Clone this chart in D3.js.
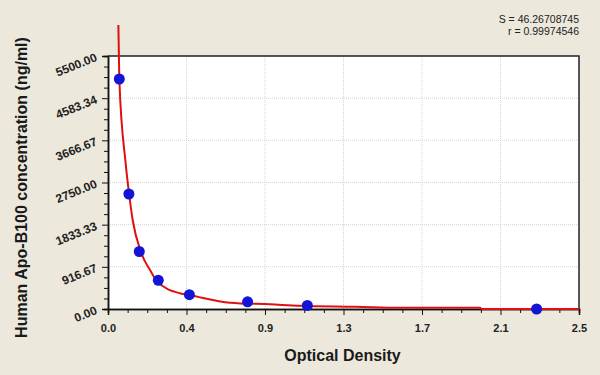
<!DOCTYPE html>
<html>
<head>
<meta charset="utf-8">
<script src="https://cdn.jsdelivr.net/npm/d3@7"></script>
<style>
  html, body { margin: 0; padding: 0; background: #ECE8DB; }
  #chart { width: 600px; height: 375px; }
  text { font-family: Arial, "Liberation Sans", sans-serif; }
</style>
</head>
<body>
<div id="chart"></div>
<script>
//Datos
const odValues   = [0.060, 0.111, 0.166, 0.267, 0.432, 0.741, 1.058, 2.275];
const concValues = [5000, 2500, 1250, 625, 312.5, 156, 78, 0];

//Curva ajustada (puntos leidos)
const curveOd   = [0.055, 0.060, 0.093, 0.112, 0.131, 0.174, 0.223, 0.259, 0.382, 0.435, 0.648, 0.860, 1.019, 1.316, 1.550, 1.975, 1.985, 2.5];
const curveConc = [6174, 5000, 3196, 2500, 1935, 1246, 848, 609, 341, 300, 137, 102, 72, 50, 28, 28, 0, 0];

//Ticks
const xTickValues = [0, 0.4167, 0.8333, 1.25, 1.6667, 2.0833, 2.5];
const xTickLabels = ['0.0', '0.4', '0.9', '1.3', '1.7', '2.1', '2.5'];
const yTickValues = [0, 916.67, 1833.33, 2750, 3666.67, 4583.34, 5500];
const yTickLabels = ['0.00', '916.67', '1833.33', '2750.00', '3666.67', '4583.34', '5500.00'];

const statLines = ['S = 46.26708745', 'r = 0.99974546'];

let margin = {top: 56, right: 21, bottom: 66, left: 108},
    width = 600 - margin.left - margin.right,
    height = 375 - margin.top - margin.bottom;

let svg = d3.select('#chart')
    .append('svg')
        .attr('width', 600)
        .attr('height', 375)
    .append('g')
        .attr('transform', 'translate(' + margin.left + ',' + margin.top + ')');

let x = d3.scaleLinear()
    .domain([0, 2.5])
    .range([0, width]);

let y = d3.scaleLinear()
    .domain([0, 5500])
    .range([height, 0]);

//Fondo del area
svg.append('rect')
    .attr('width', width)
    .attr('height', height)
    .attr('fill', '#ffffff');

//Rejilla
svg.append('g')
    .selectAll('line')
    .data(xTickValues.slice(1, -1))
    .enter()
    .append('line')
    .attr('x1', d => x(d)).attr('x2', d => x(d))
    .attr('y1', 0).attr('y2', height)
    .attr('stroke', '#d4d4d4')
    .attr('stroke-dasharray', '1,1');

svg.append('g')
    .selectAll('line')
    .data(yTickValues.slice(1, -1))
    .enter()
    .append('line')
    .attr('x1', 0).attr('x2', width)
    .attr('y1', d => y(d)).attr('y2', d => y(d))
    .attr('stroke', '#d4d4d4')
    .attr('stroke-dasharray', '1,1');

//Ticks menores
function minorTicks(major) {
    let out = [];
    for (let i = 0; i < major.length - 1; i++) {
        let step = (major[i + 1] - major[i]) / 4;
        for (let j = 1; j < 4; j++) out.push(major[i] + step * j);
    }
    return out;
}

//Eje X
let xAxis = svg.append('g')
    .attr('transform', 'translate(0,' + height + ')');

xAxis.call(d3.axisBottom(x)
        .tickValues(xTickValues)
        .tickSize(6)
        .tickFormat((d, i) => xTickLabels[i]));

xAxis.append('g')
    .call(d3.axisBottom(x).tickValues(minorTicks(xTickValues)).tickSize(4).tickFormat(''));

xAxis.selectAll('.domain').attr('stroke', '#111').attr('stroke-width', 1.5);
xAxis.selectAll('line').attr('stroke', '#111');
xAxis.selectAll('text')
    .attr('dy', '1.25em')
    .attr('font-size', '11px')
    .attr('font-weight', 'bold')
    .attr('fill', '#222');

//Eje Y
let yAxis = svg.append('g');

yAxis.call(d3.axisLeft(y)
        .tickValues(yTickValues)
        .tickSize(6)
        .tickFormat((d, i) => yTickLabels[i]));

yAxis.append('g')
    .call(d3.axisLeft(y).tickValues(minorTicks(yTickValues)).tickSize(4).tickFormat(''));

yAxis.selectAll('.domain').attr('stroke', '#111').attr('stroke-width', 1.5);
yAxis.selectAll('line').attr('stroke', '#111');
yAxis.selectAll('.tick text')
    .attr('x', 0)
    .attr('dy', 0)
    .attr('text-anchor', 'end')
    .attr('transform', 'translate(-10,4) rotate(-22)')
    .attr('font-size', '12px')
    .attr('font-weight', 'bold')
    .attr('fill', '#222');

//Borde superior y derecho
svg.append('path')
    .attr('d', 'M0,0H' + width + 'V' + height)
    .attr('fill', 'none')
    .attr('stroke', '#222')
    .attr('stroke-width', 1.5);

//Curva
let line = d3.line()
    .x((d, i) => x(curveOd[i]))
    .y((d, i) => y(curveConc[i]))
    .curve(d3.curveMonotoneX);

svg.append('path')
    .datum(curveOd)
    .attr('d', line)
    .attr('fill', 'none')
    .attr('stroke', '#e01010')
    .attr('stroke-width', 2);

//Puntos
svg.selectAll('.dot')
    .data(odValues)
    .enter()
    .append('circle')
    .attr('class', 'dot')
    .attr('cx', d => x(d))
    .attr('cy', (d, i) => y(concValues[i]))
    .attr('r', 5.5)
    .attr('fill', '#1414d8');

//Titulos de ejes
svg.append('text')
    .attr('x', width / 2 - 1)
    .attr('y', height + 52)
    .attr('text-anchor', 'middle')
    .attr('font-size', '16px')
    .attr('font-weight', 'bold')
    .attr('fill', '#1a1a1a')
    .text('Optical Density');

svg.append('text')
    .attr('transform', 'translate(' + (-81) + ',' + (height / 2 + 5) + ') rotate(-90)')
    .attr('text-anchor', 'middle')
    .attr('font-size', '16px')
    .attr('font-weight', 'bold')
    .attr('fill', '#1a1a1a')
    .text('Human Apo-B100 concentration (ng/ml)');

//Estadisticos
svg.append('g')
    .selectAll('text')
    .data(statLines)
    .enter()
    .append('text')
    .attr('x', width)
    .attr('y', (d, i) => -33 + i * 11.5)
    .attr('text-anchor', 'end')
    .attr('font-size', '10.5px')
    .attr('fill', '#222')
    .text(d => d);
</script>
</body>
</html>
